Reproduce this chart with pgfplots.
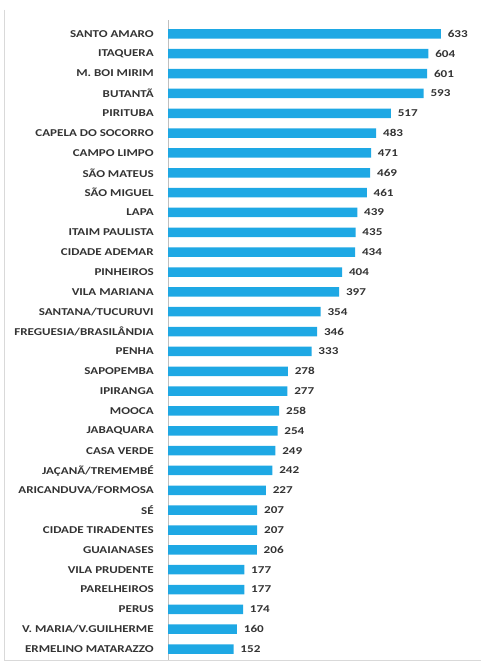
\documentclass[border=0pt]{standalone}
\usepackage{pgfplots}
\pgfplotsset{compat=1.18}
\usepackage{fontspec}
\setmainfont{Carlito}
\definecolor{barblue}{RGB}{30,168,228}
\begin{document}
\begin{tikzpicture}[x=1pt,y=1pt]
\begin{axis}[
  at={(168pt,9pt)}, anchor=south west,
  scale only axis,
  width=313pt, height=640pt,
  xbar, bar width=9.5pt,
  xmin=0, xmax=726,
  ymin=-0.55, ymax=31.7,
  axis x line=none,
  axis y line*=left,
  y axis line style={draw=black!25},
  ytick={0,...,31},
  yticklabels={ERMELINO MATARAZZO,V. MARIA/V.GUILHERME,PERUS,PARELHEIROS,VILA PRUDENTE,GUAIANASES,CIDADE TIRADENTES,SÉ,ARICANDUVA/FORMOSA,JAÇANÃ/TREMEMBÉ,CASA VERDE,JABAQUARA,MOOCA,IPIRANGA,SAPOPEMBA,PENHA,FREGUESIA/BRASILÂNDIA,SANTANA/TUCURUVI,VILA MARIANA,PINHEIROS,CIDADE ADEMAR,ITAIM PAULISTA,LAPA,SÃO MIGUEL,SÃO MATEUS,CAMPO LIMPO,CAPELA DO SOCORRO,PIRITUBA,BUTANTÃ,M. BOI MIRIM,ITAQUERA,SANTO AMARO},
  yticklabel style={font=\fontsize{10.5}{12}\selectfont\bfseries, text=black!80, xscale=1.24, anchor=east, xshift=-8pt},
  major tick length=0pt,
  nodes near coords={\pgfmathprintnumber[assume math mode=true]{\pgfplotspointmeta}},
  nodes near coords style={font=\fontsize{10.5}{12}\selectfont\bfseries, text=black!80, xscale=1.25, anchor=west, xshift=2pt},
  clip=false,
]
\addplot[fill=barblue, draw=none] coordinates {
(152,0) (160,1) (174,2) (177,3) (177,4) (206,5) (207,6) (207,7) (227,8) (242,9) (249,10) (254,11) (258,12) (277,13) (278,14) (333,15) (346,16) (354,17) (397,18) (404,19) (434,20) (435,21) (439,22) (461,23) (469,24) (471,25) (483,26) (517,27) (593,28) (601,29) (604,30) (633,31)
};
\end{axis}
\draw[black!15, line width=0.8pt] (4,659) -- (4,9) -- (481,9);
\path[use as bounding box] (0,0) rectangle (481,669);
\end{tikzpicture}
\end{document}
